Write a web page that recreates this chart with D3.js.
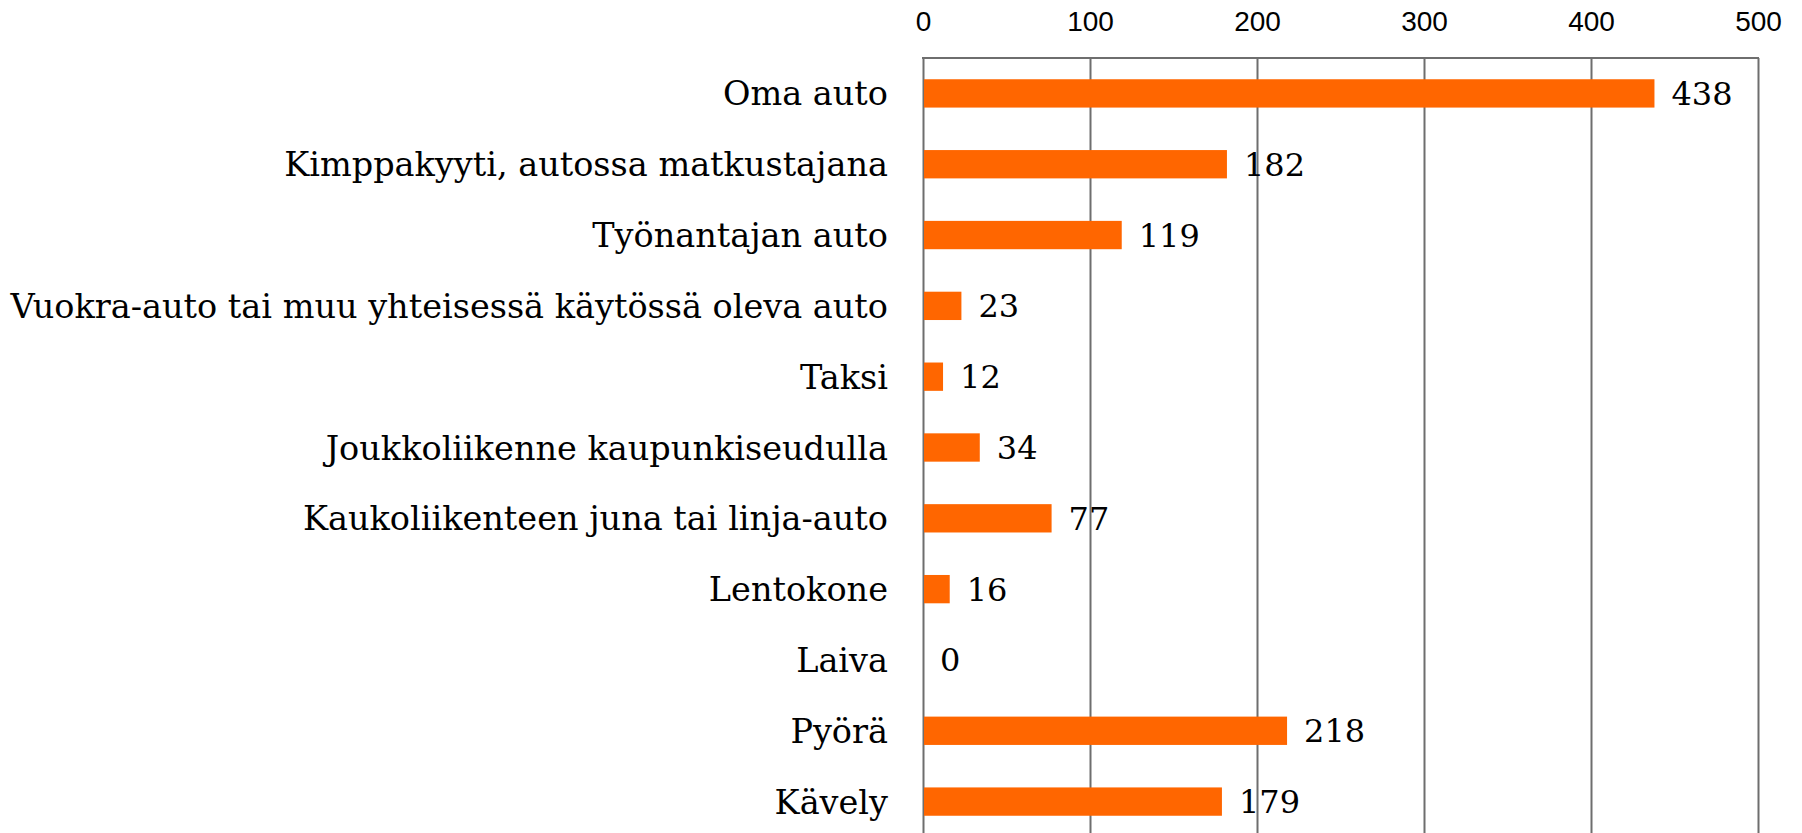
<!DOCTYPE html>
<html>
<head>
<meta charset="utf-8">
<script src="https://cdn.jsdelivr.net/npm/d3@7"></script>
<style>
  body { margin: 0; background: #fff; }
  svg { display: block; }
</style>
</head>
<body>
<svg id="chart" width="1802" height="833"></svg>
<script>
// data
const categories = [
  "Oma auto",
  "Kimppakyyti, autossa matkustajana",
  "Työnantajan auto",
  "Vuokra-auto tai muu yhteisessä käytössä oleva auto",
  "Taksi",
  "Joukkoliikenne kaupunkiseudulla",
  "Kaukoliikenteen juna tai linja-auto",
  "Lentokone",
  "Laiva",
  "Pyörä",
  "Kävely"
];
const values = [438, 182, 119, 23, 12, 34, 77, 16, 0, 218, 179];
const tickValues = [0, 100, 200, 300, 400, 500];

const svg = d3.select("#chart");
const plotLeft = 923, plotRight = 1758, plotTop = 58, plotBottom = 837;
const gridColor = "#6e6e6e";
const barColor = "#ff6600";
const serif = "'DejaVu Serif', serif";

const x = d3.scaleLinear().domain([0, 500]).range([plotLeft, plotRight]);
const y = d3.scaleBand().domain(categories).range([plotTop, plotBottom])
    .paddingInner(0.6).paddingOuter(0.3);

// gridlines + tick labels on top
const xAxis = d3.axisTop(x).tickValues(tickValues)
    .tickSize(-(plotBottom - plotTop)).tickPadding(27);
const gx = svg.append("g").attr("transform", "translate(0," + plotTop + ")").call(xAxis);
gx.select(".domain").remove();
gx.selectAll(".tick line").attr("stroke", gridColor).attr("stroke-width", 2);
gx.selectAll(".tick text")
    .attr("fill", "#000")
    .style("font-family", "'Liberation Sans', Arial, sans-serif")
    .style("font-size", "28px");

// top border
svg.append("line")
    .attr("x1", x(0) - 1).attr("x2", x(500) + 1)
    .attr("y1", plotTop).attr("y2", plotTop)
    .attr("stroke", gridColor).attr("stroke-width", 2);

// bars
svg.append("g").selectAll("rect")
    .data(values)
    .join("rect")
    .attr("x", x(0) + 1)
    .attr("y", (d, i) => y(categories[i]))
    .attr("width", d => Math.max(0, x(d) - x(0) - 1))
    .attr("height", y.bandwidth())
    .attr("fill", barColor);

// value labels
svg.append("g").selectAll("text")
    .data(values)
    .join("text")
    .attr("x", d => x(d) + 17)
    .attr("y", (d, i) => y(categories[i]) + y.bandwidth() / 2)
    .attr("dy", "0.36em")
    .style("font-family", serif)
    .style("font-size", "32px")
    .attr("fill", "#000")
    .text(d => d);

// category labels
const labels = svg.append("g").selectAll("text")
    .data(categories)
    .join("text")
    .attr("x", plotLeft - 35)
    .attr("y", d => y(d) + y.bandwidth() / 2)
    .attr("dy", "0.36em")
    .attr("text-anchor", "end")
    .style("font-family", serif)
    .style("font-size", "33.5px")
    .attr("fill", "#000")
    .text(d => d);

// squeeze labels wider than the space on the left
labels.each(function() {
  const w = this.getComputedTextLength();
  if (w > 879) d3.select(this).attr("textLength", 879).attr("lengthAdjust", "spacingAndGlyphs");
});
</script>
</body>
</html>
